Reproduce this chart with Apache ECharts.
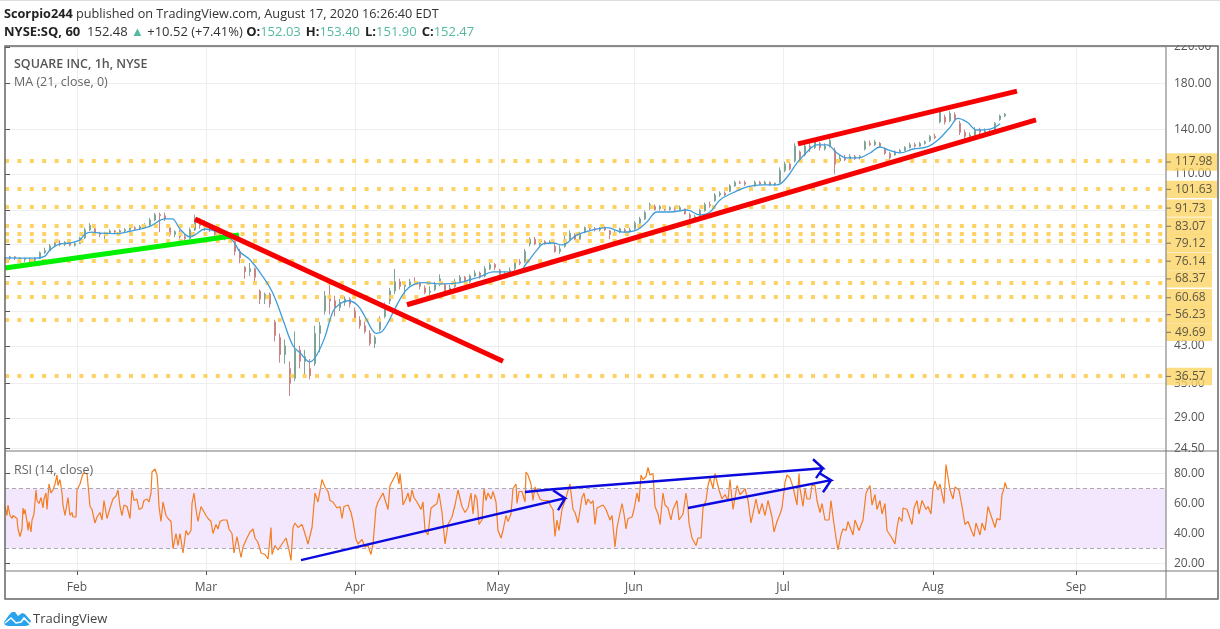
<!DOCTYPE html>
<html><head><meta charset="utf-8">
<style>html,body{margin:0;padding:0;background:#fff}#c{width:1220px;height:629px}</style>
<script src="https://cdn.jsdelivr.net/npm/echarts@6/dist/echarts.min.js"></script></head>
<body><div id="c"></div>
<script>
const FONT='"Open Sans","Noto Sans",sans-serif';
const monthBars=[72,201,350,493,629,778,928,1071];
const monthNames=['Feb','Mar','Apr','May','Jun','Jul','Aug','Sep'];
const priceGrid=[220,180,140,110,90,75,63,52,43,35,29,24.5];
const priceTicks=[220,180,140,110,43,35,29,24.5];
const rsiTicks=[80,60,40,20];
const levels=[117.98,101.63,91.73,83.07,79.12,76.14,68.37,60.68,56.23,49.69,36.57];
const levelLabelShift=[1,1,1,1,9,20,18,15,18,13,1];
const candleStep=5;
// open, close, low, high
const candles=[[69.5,69.1,68.4,69.9],[69.5,69.9,68.8,70.3],[69.9,69.4,68.7,70.2],[69.4,68.9,68.2,69.8],[68.9,69.2,67.9,69.6],[69.2,68.6,66.9,69.6],[68.6,69.3,68.1,69.8],[69.3,71.5,69,72],[71.5,72.3,71,73.5],[72.3,74.2,72,75],[74.2,75.3,73.6,76],[75.3,74.8,74,76.5],[74.8,75.6,74.2,76.2],[75.6,74.5,74,76],[74.5,75.2,73.9,75.8],[75.2,77.5,75,78],[77.5,81,77,82],[81,83,80.5,84],[81.5,79.5,79,82],[79.5,79,77.8,80.2],[79,79.8,77,80.2],[79.8,80.5,79.2,81.2],[80.5,80,79.4,81],[80,80.6,79.6,81.3],[80.6,81.1,80,81.8],[81.1,82,80.6,83],[82,81.5,80.8,82.6],[81.5,82.4,81,83.2],[82.4,83,81.8,84],[83,85.5,82.5,86.5],[85.5,88,85,88.8],[88,87.5,80,89],[87.5,86,85,89],[82,79,78,83],[79,80.2,77.8,80.8],[80.2,78,77.2,81],[78,77.2,76.5,79],[77.2,81,76.8,82],[81,86,80.5,88],[86,83,81.5,86.5],[83,84.5,80.5,85.5],[83,81,80,84],[81,79,77.5,81.5],[79,78,76.8,80],[78,79,76.5,79.8],[79,77.5,76.5,80],[76,72,70.5,76.5],[72,69.5,67.5,73],[66,64.5,62,66.5],[64.5,65.5,63,67.6],[65.5,62.5,61,66],[58,55.5,54,58.5],[55.5,57,54,57.5],[57,54,53,57.5],[49,45.5,44,49.6],[45,41,39.2,46],[41,43,39,44.5],[38,35,32.7,39.5],[36,42,35.5,46.5],[42,39.5,38,43],[39.5,40.5,36.8,42],[38,36.5,35.8,40],[39,46,38.5,48],[46,48,41.5,49],[52,56.5,51,58],[56.5,55,51,60],[55,53,50.5,56.5],[53,54.5,52,55.5],[54.5,55.5,53.5,56.3],[55.5,54,53,56],[52,49.5,49,53],[49.5,48,47.2,50.5],[48,46.5,46,49],[46,43.5,43,46.8],[43.5,45,42.5,45.5],[47,49.5,46.5,50.5],[50.5,53,50,54.5],[55,58,54,59],[58,61,57,65.5],[61,59.5,58.5,62],[59.5,60,56.9,61],[60,61,59.5,62],[61,60.5,60,62.5],[60.5,59.5,58.5,61],[59,57.5,57,59.8],[57.5,58,56.5,59.5],[58.5,60,58,61],[60,62,59.5,63.5],[60,58,57.5,60.5],[58,59,57.5,60],[59.5,61,59,62],[61,62.5,60.5,63.3],[62.5,61,60.5,63],[61,63,60.5,63.5],[63,64,62.5,65],[64,62.5,62,64.5],[63,65.5,62.5,66.5],[65.5,67,65,68],[67,66,65,67.5],[65,63.5,62.5,65.5],[63.5,63,62,64.5],[63.5,65,63,66],[65.5,68,65,69],[68,67.5,66.8,69],[68,72,67.5,73],[75,77,74,77.8],[77,75,74.5,78],[75,76,74.3,76.8],[76,75.3,74.8,76.5],[75.3,75.8,75,76.5],[74,72,71.5,75],[72,73,71,74.5],[74,77,73.5,78.5],[77,79.5,76.5,80.8],[79,77,76.5,79.5],[77,79.5,76.8,80.2],[80,82,79.5,82.5],[82,81.5,80.5,83],[81.5,81,80.3,82.3],[81,81.8,80.3,82.2],[81.8,81,80.5,82.5],[80.5,79,77,81],[79,80,78.5,80.8],[80,81.5,79.5,82],[81,80.5,79.7,81.8],[80.5,81,79.8,82],[81.5,84,81,85],[84,86,83.5,87],[86,89,85.5,90],[91,93,90.3,94],[92,90.5,90,93],[91,92,90,92.8],[92,90.5,89.8,92.5],[90.5,91.5,90,92.2],[91.5,90.5,89.8,92],[90.5,91.5,90,92.5],[90.8,88.5,88,91],[88,86.5,85.6,89],[86.5,87,85,88],[87,90,86.5,90.8],[90,93,89.5,94],[93,92.5,91.5,94.5],[95,98,94.5,99],[98,99,97,100],[99,98,97.5,100],[100,103,99.5,104],[103,105,102.5,106],[105,104.5,104,106],[105,104,103,106],[101,102,100,103],[103,105,102.5,106],[105,104,103.5,105.8],[104,105,103.5,106],[105,103.5,103,105.5],[103.5,104.5,103,105],[105,112,104.5,114],[112,116,111,117.5],[116,113,112,117],[118,128,117,130],[124,120,118,125],[122,128,121,130],[128,126,124,130],[127,132,126,133.5],[130,127,125,131],[126,128,125,130],[128,132,127,134],[125,116,110,127],[118,120,117,122],[120,118.7,118,122],[119,121,118.5,122.5],[121,119.5,118.7,122],[120,121,119,122],[126,131,125,132],[130,129,128,132],[129,131,128,132.5],[130,128,127,131],[126,123,122,127],[123,120,118.5,124],[122,124,121.5,125],[124,125,123.5,126],[125,127,124.5,128],[127,129,126.5,130.5],[129,128,127,130.5],[128,130,127.5,131],[130,131,129,132],[132,135,131,136],[135,134,133,137],[146,155,145,157],[150,146,144,152],[147,153,146,155],[152,148,146,154],[145,138,136,147],[138,135,133,140],[135,136,132,138],[136,140,135,142],[140,138,136,141.5],[138,139,136,141],[139,138,136,140.5],[138,145,137.5,146],[148,151,147,152],[151,152.47,150,153.4]];
const maBars=[0,30,40,45,55,65,75,80,87,95,110,125,145,160,167,175,185,190,200,210,220,228,235,245,258,268,278,288,295,305,312,320,328,335,343,352,360,367,371,377,383,390,400,408,418,438,455,465,475,488,502,512,522,532,538,548,557,572,588,602,618,632,642,652,665,682,695,705,715,728,742,758,772,782,792,802,812,822,832,842,853,865,875,883,895,908,922,933,945,953,962,972,985,995];
const maValues=[69.5,69.4,70.2,72.6,75,75.4,76.7,79.2,80,79.6,79.4,80.4,82.6,86,86,81.4,78,78.8,81.4,80.5,78.8,76.3,71.8,68.8,62.7,57.2,49.6,43,41.4,39.4,41,45.2,51.9,54.1,55,53.8,50.4,47,46,46.5,48.8,52.7,57.9,60,60.7,60.3,60.7,61.7,62.7,64.4,64.4,64,67.7,72.6,75,75.4,74.6,78.8,81,82,80,81,84.6,89.3,89.3,90.3,87.9,89.3,95.4,99.2,102.5,103.6,103.6,108,116.8,124,128.9,128.9,123.3,120,120,123.3,127.4,125.4,123.3,126,127.4,132.4,141.8,149,146,139.8,140.5,144.6];
const rsiBars=[0,2,3,5,7,8,10,12,13,15,17,18,19,20,22,23,24,26,27,29,31,32,34,36,38,39,41,42,44,46,48,50,52,53,55,57,58,60,63,65,67,68,71,72,75,78,82,84,85,87,90,92,95,97,99,102,105,108,111,113,115,117,119,122,125,127,129,132,134,137,139,142,144,146,147,150,152,153,154,156,158,161,163,166,168,171,173,175,178,181,183,186,187,189,191,193,196,198,201,203,206,208,211,213,215,218,222,224,227,229,232,236,238,242,245,248,250,253,256,260,263,266,267,270,273,277,281,284,286,288,290,293,297,299,303,307,310,311,313,317,320,323,325,328,332,335,337,339,343,346,348,351,353,357,360,363,366,368,371,373,378,380,383,385,392,394,395,397,398,401,403,405,407,409,412,414,416,418,420,423,426,428,432,434,437,440,443,447,450,453,457,460,463,466,468,470,472,474,477,479,481,483,486,488,491,493,496,498,501,503,506,508,511,512,514,517,519,520,521,523,526,528,530,532,535,538,540,543,546,548,550,552,554,557,560,565,568,570,573,577,579,581,583,586,588,590,592,595,598,601,603,605,607,610,612,617,619,621,623,627,629,632,634,636,638,641,643,645,648,650,653,655,658,660,663,666,668,672,674,678,681,683,684,687,689,691,693,696,698,701,703,705,708,710,712,714,717,720,723,725,728,732,735,738,740,743,746,748,751,754,757,760,763,767,769,772,775,777,780,782,785,788,792,794,795,798,800,802,805,807,810,812,815,817,820,822,824,826,828,831,833,836,838,841,843,845,848,850,854,858,861,865,867,870,872,875,877,880,882,886,890,892,894,897,898,902,907,909,912,914,917,921,923,926,928,930,933,935,939,941,943,945,948,950,952,954,957,960,963,967,969,971,973,975,977,980,983,986,988,990,992,995,997,999,1000,1002];
const rsiValues=[58,52,59,52,50,52,51,50,43,38,43,57,53,56,48,42,48,41,49,53,69,62,60,64,57,63,67,56,73,67,69,73,79,72,76,67,59,52,64,52,54,51,51,69,73,80,80,81,58,56,47,51,54,49,62,50,57,63,65,69,58,52,59,58,50,69,62,63,56,57,62,63,61,67,81,83,79,71,58,48,61,52,50,48,30,40,32,40,27,42,39,42,60,67,56,48,58,57,52,50,48,40,46,43,48,49,49,43,40,27,38,24,31,37,41,43,37,34,27,26,23,44,26,32,29,33,37,29,22,44,47,44,46,42,33,44,67,68,61,76,71,68,62,61,57,58,50,58,59,54,48,36,33,36,31,32,26,33,57,61,67,68,56,72,81,73,80,68,59,63,67,61,69,64,61,60,56,61,42,39,57,58,60,67,54,33,46,51,59,69,58,54,57,67,53,66,63,46,49,70,62,67,63,68,61,42,37,42,52,48,53,70,73,60,68,68,68,61,81,79,73,62,71,70,63,62,61,62,58,56,38,49,42,56,62,73,56,54,47,64,67,59,63,60,62,46,57,58,59,56,57,49,52,31,44,60,53,43,50,51,56,67,61,79,76,78,84,79,80,58,53,46,67,59,57,49,56,62,49,53,67,57,47,37,37,32,37,37,57,62,72,77,70,80,81,69,63,66,62,76,56,72,66,68,70,62,47,46,63,53,60,52,62,51,41,48,53,57,74,79,77,71,59,80,70,58,70,63,63,72,72,62,54,60,49,48,49,62,51,37,29,39,43,42,48,49,39,49,42,49,67,72,59,66,56,62,53,60,42,38,33,44,51,48,57,56,46,57,62,53,62,56,58,53,70,75,69,73,60,86,86,69,63,71,72,69,58,46,48,41,38,47,43,39,47,42,58,52,53,44,50,49,66,70,74,70];
const greenLine=[[0,65.8],[234,78.8]];
const redDown=[[190,85.9],[498,39.5]];
const redSupport=[[402,53.8],[1031,147.7]];
const redResist=[[793,129.6],[1012,172.9]];
const blueArrow1=[[296,22.2],[560,63.5],[548,68.9],[560,63.5],[553,55.5]];
const blueArrow2=[[520,67.7],[548,69.5],[818,83.5],[808,89.5],[818,83.5],[811,76.9]];
const blueArrow3=[[683,57],[826,75.5],[815,80],[826,75.5],[818,67.5]];
const lastBar=1161;

const AX='#555', GL='#eeeeee';
const hdrRich={b:{fontFamily:FONT,fontSize:13,fontWeight:700,color:'#222'},n:{fontFamily:FONT,fontSize:13,fontWeight:400,color:'#333'},u:{fontFamily:FONT,fontSize:13,fontWeight:400,color:'#53b9a0'}};
const hdrRich1={b:{fontFamily:FONT,fontSize:12.7,fontWeight:700,color:'#222'},n:{fontFamily:FONT,fontSize:12.7,fontWeight:400,color:'#333'}};
const ln=(data,color,w,xi)=>({type:'line',data,xAxisIndex:xi,yAxisIndex:xi,showSymbol:false,symbol:'none',silent:true,z:6,lineStyle:{color,width:w,cap:'butt',join:'miter'}});
const option={
 animation:false,backgroundColor:'#fff',
 title:[
  {left:4,top:8,padding:0,text:'{b|Scorpio244}{n| published on TradingView.com, August 17, 2020 16:26:40 EDT}',textStyle:{rich:hdrRich1}},
  {left:4,top:23,padding:0,text:'{b|NYSE:SQ, 60}{n|  152.48 }{u|▲}{n| +10.52 (+7.41%) }{b|O:}{u|152.03} {b|H:}{u|153.40} {b|L:}{u|151.90} {b|C:}{u|152.47}',textStyle:{rich:hdrRich}},
  {left:14,top:58,padding:0,text:'SQUARE INC, 1h, NYSE',textStyle:{fontFamily:FONT,fontSize:12.5,fontWeight:600,color:'#555'}},
  {left:14,top:76,padding:0,text:'MA (21, close, 0)',textStyle:{fontFamily:FONT,fontSize:12.5,fontWeight:400,color:'#666'}},
  {left:14,top:464,padding:0,text:'RSI (14, close)',textStyle:{fontFamily:FONT,fontSize:12.5,fontWeight:400,color:'#666'}},
  {left:33,top:613,padding:0,text:'TradingView',textStyle:{fontFamily:FONT,fontSize:13,fontWeight:400,color:'#444'}}
 ],
 grid:[{left:5,top:46,width:1161,height:405},{left:5,top:451,width:1161,height:120}],
 xAxis:[
  {type:'value',gridIndex:0,min:0,max:lastBar,axisLine:{show:false},axisTick:{show:false,customValues:monthBars},axisLabel:{show:false,customValues:monthBars},splitLine:{show:true,lineStyle:{color:GL}}},
  {type:'value',gridIndex:1,min:0,max:lastBar,axisLine:{show:false},axisTick:{show:true,length:4,lineStyle:{color:AX},customValues:monthBars},
   axisLabel:{show:true,customValues:monthBars,margin:11,color:AX,fontFamily:FONT,fontSize:12,formatter:v=>monthNames[monthBars.indexOf(v)]},splitLine:{show:true,lineStyle:{color:GL}}}
 ],
 yAxis:[
  {type:'log',logBase:10,gridIndex:0,position:'right',min:24.2,max:221.2,axisLine:{show:false},axisTick:{show:true,length:5,lineStyle:{color:AX},customValues:priceGrid},
   axisLabel:{show:true,customValues:priceTicks,margin:8,padding:[2,0,0,0],color:AX,fontFamily:FONT,fontSize:12,formatter:v=>Number(v).toFixed(2)},splitLine:{show:true,lineStyle:{color:GL}}},
  {type:'value',gridIndex:1,position:'right',min:15,max:95,axisLine:{show:false},axisTick:{show:true,length:5,lineStyle:{color:AX},customValues:rsiTicks},
   axisLabel:{show:true,customValues:rsiTicks,margin:8,padding:[2,0,0,0],color:AX,fontFamily:FONT,fontSize:12,formatter:v=>Number(v).toFixed(2)},splitLine:{show:true,lineStyle:{color:GL}}}
 ],
 series:[
  {type:'line',xAxisIndex:0,yAxisIndex:0,data:[],silent:true,z:3,
   markLine:{silent:true,symbol:'none',animation:false,label:{show:false},
    lineStyle:{color:'#fdd262',width:4,type:[4,8.4],opacity:1},data:levels.map(v=>({yAxis:v}))}},
  {type:'candlestick',xAxisIndex:0,yAxisIndex:0,barWidth:1.4,silent:true,z:4,
   encode:{x:0,y:[1,2,3,4]},
   data:candles.map((c,i)=>[i*candleStep,c[0],c[1],c[2],c[3]]),
   itemStyle:{color:'#7fa596',color0:'#c98484',borderColor:'#7fa596',borderColor0:'#c98484',borderWidth:1}},
  Object.assign(ln(maBars.map((b,i)=>[b,maValues[i]]),'#3f9ddb',1.3,0),{smooth:0.4,z:5}),
  ln(greenLine,'#00f000',5,0),
  ln(redDown,'#f60000',5,0),
  ln(redSupport,'#f60000',5,0),
  ln(redResist,'#f60000',5,0),
  {type:'scatter',xAxisIndex:0,yAxisIndex:0,symbolSize:0,silent:true,clip:false,z:7,
   data:levels.map((v,i)=>({value:[lastBar,v],label:{show:true,position:'right',distance:0,offset:[0,levelLabelShift[i]],formatter:v.toFixed(2),
     backgroundColor:'#fdd564',color:'#333',fontFamily:FONT,fontSize:12,align:'left',verticalAlign:'middle',height:17.4,lineHeight:17.4,width:i<2?42:37,padding:[0,0,0,9]}}))},
  {type:'scatter',xAxisIndex:0,yAxisIndex:0,symbol:'rect',silent:true,clip:false,z:8,
   data:levels.map((v,i)=>({value:[lastBar,v],symbolSize:[5,1],symbolOffset:[2.5,levelLabelShift[i]]})),itemStyle:{color:'#555'}},
  {type:'line',xAxisIndex:1,yAxisIndex:1,data:rsiBars.map((b,i)=>[b,rsiValues[i]]),showSymbol:false,symbol:'none',silent:true,z:4,
   lineStyle:{color:'#f47d20',width:1.2},
   markArea:{silent:true,animation:false,itemStyle:{color:'#f3e7fd'},data:[[{yAxis:70},{yAxis:30}]]},
   markLine:{silent:true,symbol:'none',animation:false,label:{show:false},lineStyle:{color:'#aaa',width:1,type:[4,3]},data:[{yAxis:70},{yAxis:30}]}},
  ln(blueArrow1,'#0a0adf',2.4,1),
  ln(blueArrow2,'#0a0adf',2.4,1),
  ln(blueArrow3,'#0a0adf',2.4,1)
 ],
 graphic:{elements:[
  {type:'rect',z:50,silent:true,shape:{x:1167,y:30,width:52,height:15},style:{fill:'#fff'}},
  {type:'rect',z:51,silent:true,shape:{x:5,y:46,width:1213,height:553},style:{fill:'none',stroke:'#666',lineWidth:1.5}},
  {type:'line',z:51,silent:true,shape:{x1:1166,y1:46,x2:1166,y2:599},style:{stroke:'#888',lineWidth:1.2}},
  {type:'line',z:51,silent:true,shape:{x1:5,y1:451,x2:1218,y2:451},style:{stroke:'#777',lineWidth:1.2}},
  {type:'line',z:51,silent:true,shape:{x1:5,y1:571,x2:1218,y2:571},style:{stroke:'#777',lineWidth:1.2}},
  {type:'line',z:51,silent:true,shape:{x1:0,y1:0.5,x2:1220,y2:0.5},style:{stroke:'#ddd',lineWidth:1}},
  {type:'polygon',z:52,silent:true,shape:{points:[[4,622],[9,615],[12,612],[15,612],[18,616],[22,613],[25,614],[31,621],[29,625],[26,626],[8,626],[5,625]]},style:{fill:'#2aa3ec'}},
  {type:'polyline',z:53,silent:true,shape:{points:[[5,623],[11,618],[16,623],[21,622],[24,618],[30,624]]},style:{stroke:'#fff',fill:'none',lineWidth:1.5}}
 ]}
};
const chart=echarts.init(document.getElementById('c'),null,{renderer:'canvas',width:1220,height:629});
chart.setOption(option);
</script></body></html>
